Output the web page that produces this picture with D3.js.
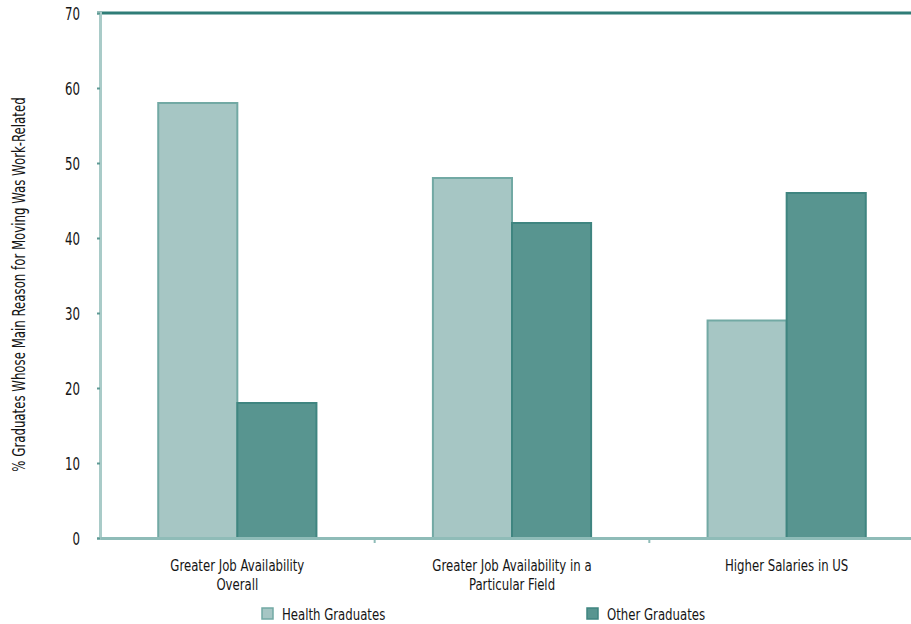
<!DOCTYPE html>
<html><head><meta charset="utf-8">
<script src="https://cdn.jsdelivr.net/npm/d3@7"></script>
<style>
body{margin:0;background:#fff;}
text{font-family:"DejaVu Sans Condensed","DejaVu Sans",sans-serif;font-stretch:condensed;fill:#151515;}
</style></head>
<body><svg id="c" width="911" height="624"></svg>
<script>
const categories = [["Greater Job Availability","Overall"],["Greater Job Availability in a","Particular Field"],["Higher Salaries in US"]];
const seriesNames = ["Health Graduates","Other Graduates"];
const healthValues = [58,48,29];
const otherValues = [18,42,46];
const yTicks = [0,10,20,30,40,50,60,70];
const yLabel = "% Graduates Whose Main Reason for Moving Was Work-Related";

const SX = 0.77; // horizontal squeeze to mimic condensed face
const FS = 17;
const svg = d3.select("#c");
const m = {left:100, top:13, right:-13, bottom:86};
const W = 911, H = 624;
const x0 = d3.scaleBand().domain(d3.range(categories.length)).range([m.left, W - m.right]).padding(0);
const x1 = d3.scaleBand().domain(seriesNames).range([x0.bandwidth()*0.212, x0.bandwidth()*0.788]).padding(0);
const y = d3.scaleLinear().domain([0,70]).range([H - m.bottom, m.top]);
const fills = ["#a6c6c4","#589590"];
const strokes = ["#72a9a4","#3f8580"];

const data = categories.map((c,i)=>({i, vals:[healthValues[i], otherValues[i]]}));
const g = svg.append("g");
g.selectAll("g.grp").data(data).join("g").attr("class","grp")
  .attr("transform", d=>`translate(${x0(d.i)},0)`)
  .selectAll("rect").data(d=>d.vals.map((v,k)=>({v,k})))
  .join("rect")
  .attr("x", d=>x1(seriesNames[d.k]))
  .attr("width", x1.bandwidth())
  .attr("y", d=>y(d.v))
  .attr("height", d=>y(0)-y(d.v))
  .attr("fill", d=>fills[d.k])
  .attr("stroke", d=>strokes[d.k])
  .attr("stroke-width", 2);

// top line
svg.append("line").attr("x1", m.left-3).attr("x2", W).attr("y1", y(70)).attr("y2", y(70))
  .attr("stroke","#2f7d77").attr("stroke-width",3);

// y axis
const ya = svg.append("g").attr("transform",`translate(${m.left},0)`)
  .call(d3.axisLeft(y).tickValues(yTicks).tickSize(3).tickFormat(d3.format("d")));
ya.select(".domain").attr("stroke","#a9cbc8").attr("stroke-width",3);
ya.selectAll(".tick line").attr("stroke","#5e9a95").attr("stroke-width",2);
ya.selectAll(".tick text").attr("x",null).attr("dy","0.36em")
  .attr("transform",`translate(-20,0) scale(${SX},1)`)
  .attr("font-size",FS).attr("fill","#151515").attr("font-family",null);

// x axis
const xa = svg.append("g").attr("transform",`translate(0,${y(0)})`)
  .call(d3.axisBottom(x0).tickSize(0).tickFormat(""));
xa.select(".domain").attr("stroke","#8fbcb8").attr("stroke-width",3);
xa.selectAll("line.sep").data(d3.range(1,categories.length)).join("line").attr("class","sep")
  .attr("x1", i=>x0(i)).attr("x2", i=>x0(i)).attr("y1",0).attr("y2",5)
  .attr("stroke","#8fbcb8").attr("stroke-width",2);
xa.selectAll("text.cat").data(data).join("text").attr("class","cat")
  .attr("text-anchor","middle").attr("font-size",16.5)
  .attr("transform", d=>`translate(${x0(d.i)+x0.bandwidth()/2},33) scale(${SX+0.02},1)`)
  .selectAll("tspan").data(d=>categories[d.i]).join("tspan")
  .attr("x",0).attr("dy",(t,j)=>j===0?0:19).text(t=>t);

// y label
svg.append("text").attr("transform",`translate(25,${(y(0)+y(70))/2+9}) rotate(-90) scale(${SX},1)`)
  .attr("text-anchor","middle").attr("font-size",FS).text(yLabel);

// legend
const legX = [262, 587];
const leg = svg.selectAll("g.leg").data(seriesNames).join("g").attr("class","leg")
  .attr("transform",(d,i)=>`translate(${legX[i]},608)`);
leg.append("rect").attr("width",11).attr("height",11)
  .attr("fill",(d,i)=>fills[i]).attr("stroke",(d,i)=>strokes[i]).attr("stroke-width",1.5);
leg.append("text").attr("transform","translate(20,11.5) scale("+(SX+0.02)+",1)").attr("font-size",16.5).text(d=>d);
</script></body></html>
